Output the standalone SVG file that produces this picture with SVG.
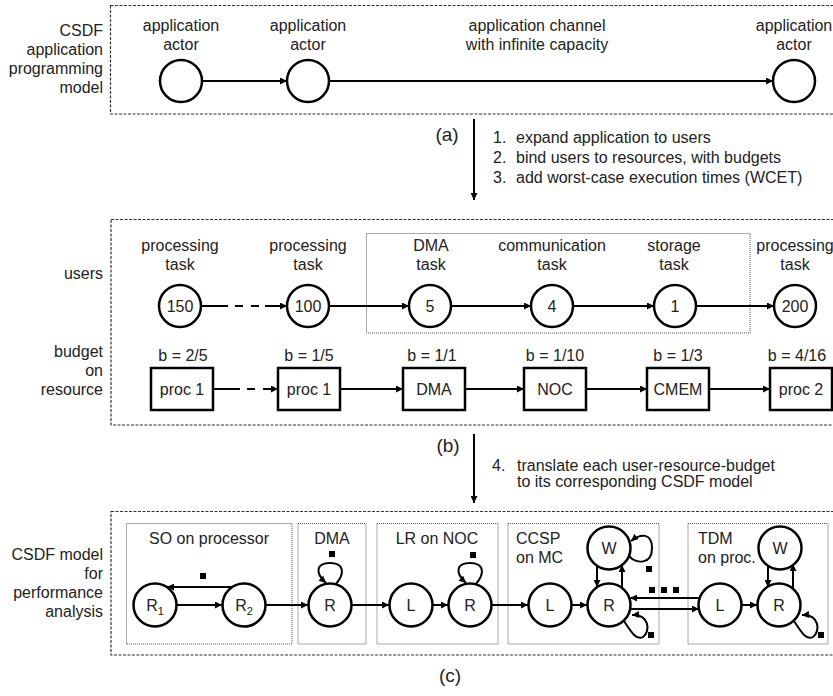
<svg xmlns="http://www.w3.org/2000/svg" width="833" height="696" viewBox="0 0 833 696">
<style>
text{font-family:"Liberation Sans",Arial,sans-serif;font-size:16px;fill:#222}
.m{text-anchor:middle}
.r{text-anchor:end}
.big{font-size:19px}
.outer{fill:none;stroke:#333;stroke-width:1.2;stroke-dasharray:3 1.5}
.inner{fill:none;stroke:#555;stroke-width:1;stroke-dasharray:1 1}
.node{fill:#fff;stroke:#000;stroke-width:2.5}
.e{fill:none;stroke:#000;stroke-width:2;marker-end:url(#ah)}
.dash{stroke-dasharray:27 7 8 8 8 6 40}
.tok{fill:#000}
</style>
<defs>
<marker id="ah" viewBox="0 0 10 10" refX="10" refY="5" markerWidth="8" markerHeight="7" markerUnits="userSpaceOnUse" orient="auto">
<path d="M0,0 L10,5 L0,10 z" fill="#000"/>
</marker>
</defs>

<!-- section (a) -->
<g id="section-a">
<rect class="outer" x="110.5" y="5.5" width="730" height="108.5"/>
<text class="r" x="103" y="36">CSDF</text>
<text class="r" x="103" y="55">application</text>
<text class="r" x="103" y="74">programming</text>
<text class="r" x="103" y="93">model</text>
</g>
<g id="actor1"><circle class="node" cx="181" cy="81" r="21"/><text class="m" x="181" y="31">application</text><text class="m" x="181" y="50">actor</text></g>
<g id="actor2"><circle class="node" cx="308" cy="81" r="21"/><text class="m" x="308" y="31">application</text><text class="m" x="308" y="50">actor</text></g>
<g id="actor3"><circle class="node" cx="794" cy="81" r="21"/><text class="m" x="794" y="31">application</text><text class="m" x="794" y="50">actor</text></g>
<g id="channel-label"><text class="m" x="537" y="31">application channel</text><text class="m" x="537" y="50">with infinite capacity</text></g>

<g id="step-a">
<text class="m big" x="447" y="141">(a)</text>
<text x="493" y="143"><tspan x="493">1.</tspan><tspan x="516">expand application to users</tspan></text>
<text x="493" y="163"><tspan x="493">2.</tspan><tspan x="516">bind users to resources, with budgets</tspan></text>
<text x="493" y="183"><tspan x="493">3.</tspan><tspan x="516">add worst-case execution times (WCET)</tspan></text>
</g>

<!-- section (b) -->
<g id="section-b">
<rect class="outer" x="111" y="219.5" width="730" height="205.5"/>
<rect class="inner" x="366.5" y="233.5" width="383.5" height="99.5"/>
<text class="r" x="103" y="279">users</text>
<text class="r" x="103" y="357">budget</text>
<text class="r" x="103" y="376">on</text>
<text class="r" x="103" y="395">resource</text>
</g>
<g id="user150"><text class="m" x="180" y="251">processing</text><text class="m" x="180" y="270">task</text><circle class="node" cx="180" cy="306" r="21"/><text class="m" x="180" y="312">150</text></g>
<g id="user100"><text class="m" x="308" y="251">processing</text><text class="m" x="308" y="270">task</text><circle class="node" cx="308" cy="306" r="21"/><text class="m" x="308" y="312">100</text></g>
<g id="user5"><text class="m" x="431" y="251">DMA</text><text class="m" x="431" y="270">task</text><circle class="node" cx="430" cy="306" r="21"/><text class="m" x="430" y="312">5</text></g>
<g id="user4"><text class="m" x="552" y="251">communication</text><text class="m" x="552" y="270">task</text><circle class="node" cx="552" cy="306" r="21"/><text class="m" x="552" y="312">4</text></g>
<g id="user1"><text class="m" x="674" y="251">storage</text><text class="m" x="674" y="270">task</text><circle class="node" cx="675" cy="306" r="21"/><text class="m" x="675" y="312">1</text></g>
<g id="user200"><text class="m" x="795" y="251">processing</text><text class="m" x="795" y="270">task</text><circle class="node" cx="795" cy="306" r="21"/><text class="m" x="795" y="312">200</text></g>

<g id="res-proc1a"><text class="m" x="183" y="361">b = 2/5</text><rect class="node" x="151" y="368" width="62" height="42"/><text class="m" x="182" y="395">proc 1</text></g>
<g id="res-proc1b"><text class="m" x="309" y="361">b = 1/5</text><rect class="node" x="278" y="368" width="62" height="42"/><text class="m" x="309" y="395">proc 1</text></g>
<g id="res-dma"><text class="m" x="432" y="361">b = 1/1</text><rect class="node" x="403" y="368" width="62" height="42"/><text class="m" x="434" y="395">DMA</text></g>
<g id="res-noc"><text class="m" x="555" y="361">b = 1/10</text><rect class="node" x="524" y="368" width="62" height="42"/><text class="m" x="555" y="395">NOC</text></g>
<g id="res-cmem"><text class="m" x="678" y="361">b = 1/3</text><rect class="node" x="647" y="368" width="62" height="42"/><text class="m" x="678" y="395">CMEM</text></g>
<g id="res-proc2"><text class="m" x="797" y="361">b = 4/16</text><rect class="node" x="770" y="368" width="62" height="42"/><text class="m" x="801" y="395">proc 2</text></g>

<g id="step-b">
<text class="m big" x="448" y="452">(b)</text>
<text x="492" y="471"><tspan x="492">4.</tspan><tspan x="517">translate each user-resource-budget</tspan></text>
<text x="517" y="487">to its corresponding CSDF model</text>
</g>

<!-- section (c) -->
<g id="section-c">
<rect class="outer" x="111" y="511.5" width="730" height="143.5"/>
<text class="r" x="103" y="560">CSDF model</text>
<text class="r" x="103" y="579">for</text>
<text class="r" x="103" y="598">performance</text>
<text class="r" x="103" y="617">analysis</text>
<text class="m big" x="450" y="682">(c)</text>
</g>
<g id="box-so"><rect class="inner" x="126.5" y="523.5" width="165.5" height="120.5"/><text class="m" x="209" y="544">SO on processor</text></g>
<g id="box-dma"><rect class="inner" x="298" y="523.5" width="68" height="120.5"/><text class="m" x="332" y="544">DMA</text></g>
<g id="box-lr"><rect class="inner" x="377" y="523.5" width="121" height="120.5"/><text class="m" x="437" y="544">LR on NOC</text></g>
<g id="box-ccsp"><rect class="inner" x="508" y="523.5" width="151" height="120.5"/><text x="516" y="544">CCSP</text><text x="516" y="563">on MC</text></g>
<g id="box-tdm"><rect class="inner" x="688" y="523.5" width="140" height="120.5"/><text x="698" y="544">TDM</text><text x="698" y="563">on proc.</text></g>

<g id="R1"><circle class="node" cx="155" cy="605" r="21.5"/><text class="m" x="155" y="611">R<tspan font-size="11" dy="4">1</tspan></text></g>
<g id="R2"><circle class="node" cx="244" cy="605" r="21.5"/><text class="m" x="244" y="611">R<tspan font-size="11" dy="4">2</tspan></text></g>
<g id="dma-R"><circle class="node" cx="330" cy="605" r="21.5"/><text class="m" x="330" y="611">R</text></g>
<g id="lr-L"><circle class="node" cx="411" cy="605" r="21.5"/><text class="m" x="411" y="611">L</text></g>
<g id="lr-R"><circle class="node" cx="470" cy="605" r="21.5"/><text class="m" x="470" y="611">R</text></g>
<g id="ccsp-L"><circle class="node" cx="550" cy="605" r="21.5"/><text class="m" x="550" y="611">L</text></g>
<g id="ccsp-R"><circle class="node" cx="609" cy="605" r="21.5"/><text class="m" x="609" y="611">R</text></g>
<g id="ccsp-W"><circle class="node" cx="609" cy="548" r="21.5"/><text class="m" x="609" y="554">W</text></g>
<g id="tdm-L"><circle class="node" cx="720" cy="605" r="21.5"/><text class="m" x="720" y="611">L</text></g>
<g id="tdm-R"><circle class="node" cx="779" cy="605" r="21.5"/><text class="m" x="779" y="611">R</text></g>
<g id="tdm-W"><circle class="node" cx="780" cy="548" r="21.5"/><text class="m" x="780" y="554">W</text></g>

<g id="connectors">
<path class="e" d="M202 81 L287 81"/>
<path class="e" d="M329 81 L773 81"/>
<path class="e" d="M474 119 L474 200"/>
<path class="e dash" d="M201 306 L287 306"/>
<path class="e" d="M329 306 L409 306"/>
<path class="e" d="M451 306 L531 306"/>
<path class="e" d="M573 306 L654 306"/>
<path class="e" d="M696 306 L774 306"/>
<path class="e dash" d="M213 389 L278 389"/>
<path class="e" d="M340 389 L403 389"/>
<path class="e" d="M465 389 L524 389"/>
<path class="e" d="M586 389 L647 389"/>
<path class="e" d="M709 389 L770 389"/>
<path class="e" d="M474 434 L474 503"/>
<path class="e" d="M177 605 L222 605"/>
<path class="e" d="M233 587 L167 587"/>
<path class="e" d="M266 605 L308 605"/>
<path class="e" d="M336 584 C346 572, 343 563, 330 563 C317 563, 314 572, 326 583"/>
<path class="e" d="M352 605 L389 605"/>
<path class="e" d="M433 605 L448 605"/>
<path class="e" d="M476 584 C486 572, 483 563, 470 563 C457 563, 454 572, 466 583"/>
<path class="e" d="M492 605 L528 605"/>
<path class="e" d="M572 605 L587 605"/>
<path class="e" d="M597 566 L597 587"/>
<path class="e" d="M622 588 L622 565"/>
<path class="e" d="M629 556 C636 564, 652 565, 652 548 C652 533, 641 533, 631 541"/>
<path class="e" d="M624 621 C630 630, 636 641, 643 637 C651 631, 649 614, 632 615"/>
<path class="e" d="M700 598 L630 598"/>
<path class="e" d="M630 609 L699 609"/>
<path class="e" d="M742 605 L757 605"/>
<path class="e" d="M768 566 L768 587"/>
<path class="e" d="M793 589 L793 564"/>
<path class="e" d="M794 621 C800 630, 806 641, 813 637 C821 631, 819 614, 802 615"/>
</g>

<g id="tokens">
<rect class="tok" x="200" y="573" width="6" height="6"/>
<rect class="tok" x="329" y="551" width="6" height="6"/>
<rect class="tok" x="470" y="552" width="6" height="6"/>
<rect class="tok" x="646" y="566" width="6" height="6"/>
<rect class="tok" x="649" y="587" width="6" height="6"/>
<rect class="tok" x="661" y="587" width="6" height="6"/>
<rect class="tok" x="673" y="587" width="6" height="6"/>
<rect class="tok" x="648" y="632" width="6" height="6"/>
<rect class="tok" x="818" y="632" width="6" height="6"/>
</g>
</svg>
